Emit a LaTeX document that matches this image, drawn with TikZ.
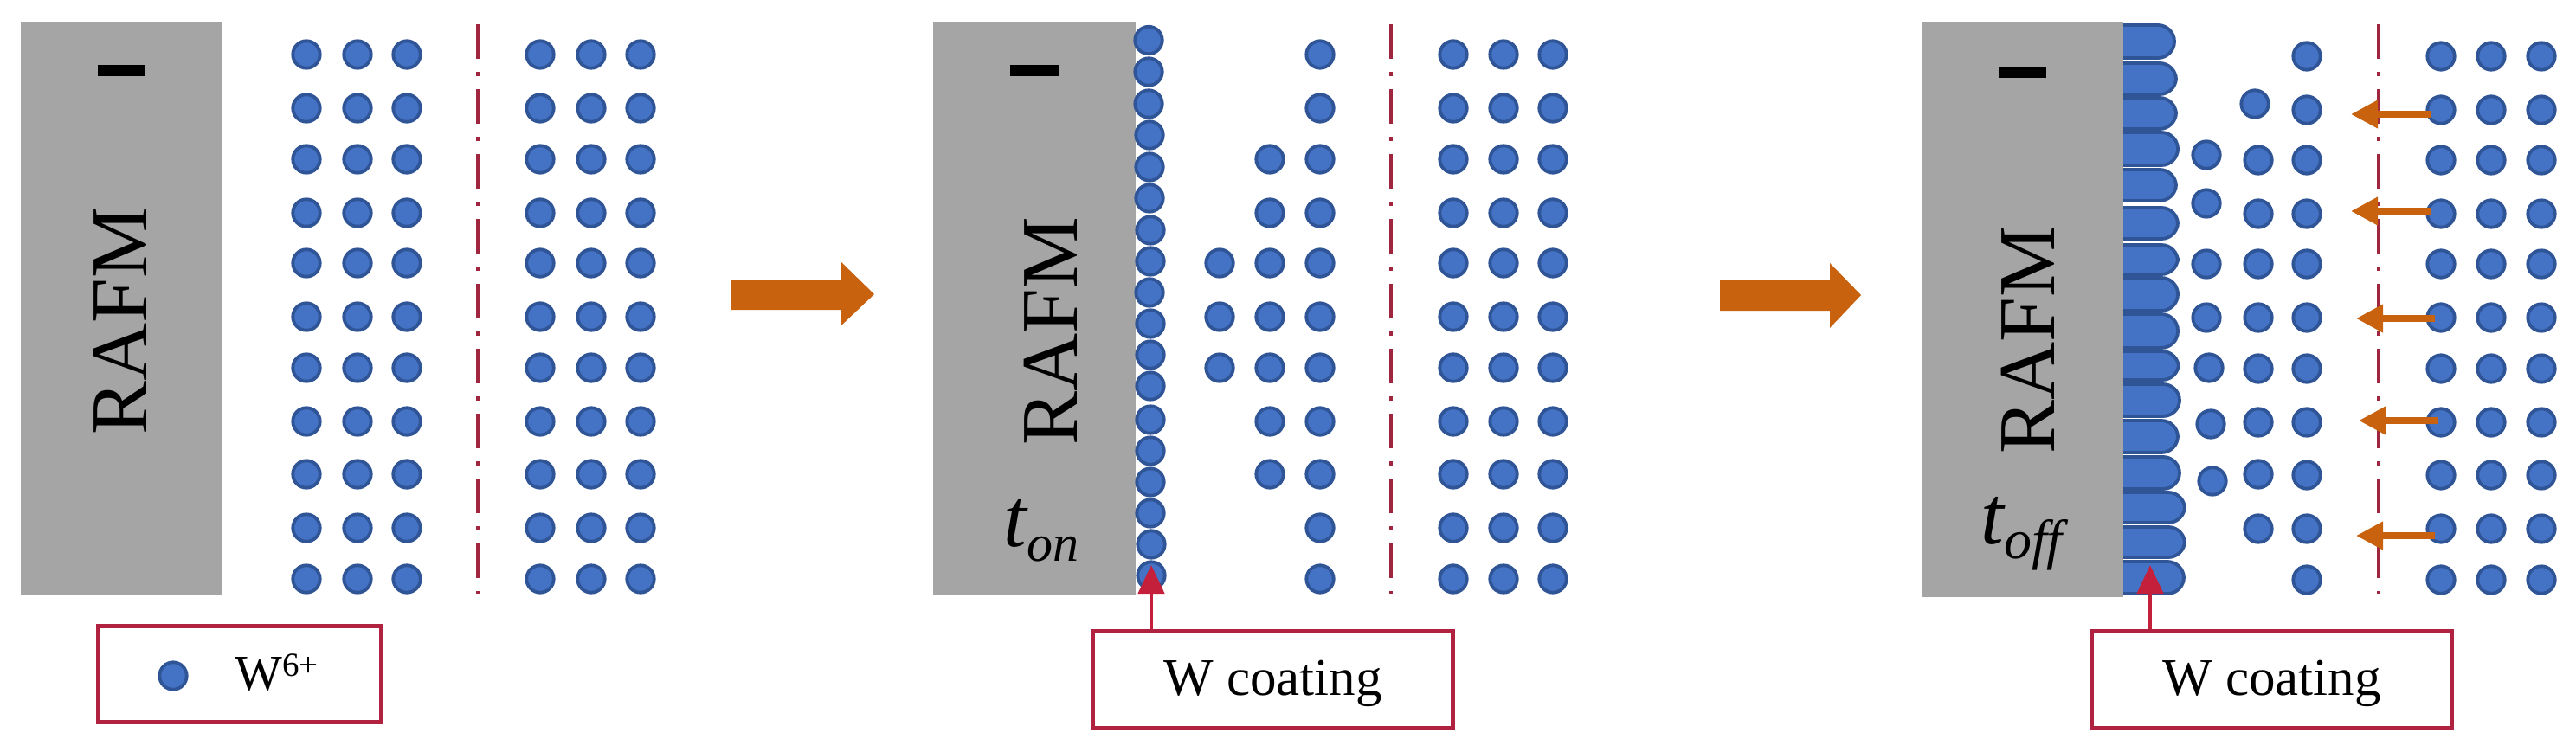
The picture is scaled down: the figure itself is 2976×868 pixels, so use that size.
\documentclass[tikz,border=0pt]{standalone}
\usepackage{fontspec}
\setmainfont{Liberation Serif}
\usetikzlibrary{arrows.meta}
\definecolor{dotfill}{HTML}{4472C4}
\definecolor{dotedge}{HTML}{2F5597}
\definecolor{rafmgray}{HTML}{A5A5A5}
\definecolor{boxred}{HTML}{B0223F}
\definecolor{dashred}{HTML}{A0263F}
\definecolor{tipred}{HTML}{C4203C}
\definecolor{flow}{HTML}{C8620F}
\tikzset{
  wdot/.style={circle,draw=dotedge,fill=dotfill,line width=1.9pt,minimum size=15.7pt,inner sep=0pt},
  capsule/.style={draw=dotedge,fill=dotfill,line width=1.9pt,rounded corners=9.5pt},
  rafm/.style={fill=rafmgray,draw=none},
  rafmlabel/.style={rotate=90,inner sep=0pt,font=\fontsize{46.5}{46.5}\selectfont},
  minusbar/.style={fill=black,draw=none},
  midline/.style={draw=dashred,line width=2.4pt,dash pattern=on 20pt off 7.5pt on 2.5pt off 7.5pt},
  legendbox/.style={draw=boxred,line width=2.4pt,inner sep=0pt,minimum width=163.8pt,minimum height=55.8pt},
  labelbox/.style={draw=boxred,line width=2.5pt,fill=white,inner sep=0pt,minimum width=208.3pt,minimum height=56pt,text height=25.5pt,text depth=8pt,font=\fontsize{30.5}{30.5}\selectfont},
  redarrow/.style={draw=tipred,line width=2.4pt,-{Triangle[length=16.5pt,width=15pt]}},
  smallflow/.style={draw=flow,line width=3.6pt,-{Triangle[length=15.5pt,width=15.5pt]}},
  bigflow/.style={fill=flow,draw=none},
  timelabel/.style={anchor=base west,inner sep=0pt,font=\fontsize{48}{48}\selectfont\itshape}
}
\begin{document}
\begin{tikzpicture}[x=0.5pt,y=-0.5pt]
\useasboundingbox (0,0) rectangle (2976,868);
\def\rowsA{63,125,184,246,304,366,425,487,548,610,669}
\def\rowsC{65,127,185,247,305,367,426,488,549,611,670}

% ---------- panel 1
\fill[rafm] (24,26) rectangle (257,688);
\fill[minusbar] (113,75) rectangle (168,88);
\node[rafmlabel] (rafmA) at (139,371) {RAFM};
\foreach \y [count=\j] in \rowsA {
  \foreach \x [count=\i] in {354,413,470,624,683,740} {
    \node[wdot] (a\i-\j) at (\x,\y) {};
  }
}
\draw[midline] (552,28) -- (552,686);
\node[legendbox] (legend) at (277,779) {};
\node[wdot] (legenddot) at (200,781) {};
\node[anchor=base west,inner sep=0pt,font=\fontsize{29}{29}\selectfont] (legendtext) at (271,797) {W\raisebox{8pt}{\fontsize{19.5}{19.5}\selectfont 6+}};

% big arrow 1
\fill[bigflow] (845,323) -- (972,323) -- (972,303) -- (1010,340) -- (972,376) -- (972,358) -- (845,358) -- cycle;

% ---------- panel 2
\fill[rafm] (1078,26) rectangle (1312,688);
\fill[minusbar] (1167,75) rectangle (1223,88);
\node[rafmlabel] (rafmB) at (1214,383) {RAFM};
\node[timelabel] (ton) at (1159,631) {t\raisebox{-8.5pt}{\fontsize{30}{30}\selectfont on}};
\foreach \x/\y [count=\k] in {1327/46.5,1327/83,1327/120,1328/156,1328/193,1328/229,1329/266,1329/302,1328/338,1329/374,1329/410,1329/446,1329/485,1329/521,1329/557,1329/593,1330/629,1330/665} {
  \node[wdot] (c\k) at (\x,\y) {};
}
\foreach \y [count=\j] in \rowsA {
  \foreach \x [count=\i] in {1525,1679,1737,1794} {
    \node[wdot] (b\i-\j) at (\x,\y) {};
  }
}
\foreach \y [count=\j] in {184,246,304,366,425,487,548} {
  \node[wdot] (bm\j) at (1467,\y) {};
}
\foreach \y [count=\j] in {304,366,425} {
  \node[wdot] (bl\j) at (1409,\y) {};
}
\draw[midline] (1607,28) -- (1607,686);
\node[labelbox] (boxB) at (1470.5,785.5) {W coating};
\coordinate (tipB) at (1330,653);
\draw[redarrow] (tipB |- boxB.north) -- (tipB);

% big arrow 2
\fill[bigflow] (1987,324) -- (2114,324) -- (2114,304) -- (2150,341) -- (2114,379) -- (2114,359) -- (1987,359) -- cycle;

% ---------- panel 3
\foreach \t/\b/\r in {29/67/2512,73/109/2514,113/149/2514,153/191/2516,196/232/2514,240/276/2516,283/317/2516,321/359/2516,363/402/2516,406/439/2517,444/481/2518,486/523/2516,528/565/2518,569/604/2524,609/644/2524,649/686/2523} {
  \draw[capsule] (2440,\t) -- (\r,\t) -- (\r,\b) -- (2440,\b);
}
\fill[rafm] (2220,26) rectangle (2453,690);
\fill[minusbar] (2309,78) rectangle (2364,90);
\node[rafmlabel] (rafmC) at (2343,393) {RAFM};
\node[timelabel] (toff) at (2288,628) {t\raisebox{-8.5pt}{\fontsize{32}{32}\selectfont off}};
\foreach \y [count=\j] in \rowsC {
  \foreach \x [count=\i] in {2665,2820,2878,2936} {
    \node[wdot] (d\i-\j) at (\x,\y) {};
  }
}
\foreach \x/\y [count=\j] in {2605/120,2609/185,2609/247,2609/305,2609/367,2609/426,2609/488,2609/548,2609/611} {
  \node[wdot] (dm\j) at (\x,\y) {};
}
\foreach \x/\y [count=\j] in {2549/179,2549/235,2549/305,2549/367,2552/425,2554/490,2556/556} {
  \node[wdot] (dl\j) at (\x,\y) {};
}
\draw[midline] (2748,28) -- (2748,686);
\foreach \a/\b/\y [count=\j] in {2808/2716/132,2808/2716/244,2813/2722/368,2817/2725/486,2813/2722/619} {
  \coordinate (fs\j) at (\a,\y);
  \coordinate (fe\j) at (\b,\y);
  \draw[smallflow] (fs\j) -- (fe\j);
}
\node[labelbox] (boxC) at (2624.5,785.5) {W coating};
\coordinate (tipC) at (2484,653);
\draw[redarrow] (tipC |- boxC.north) -- (tipC);
\end{tikzpicture}
\end{document}
